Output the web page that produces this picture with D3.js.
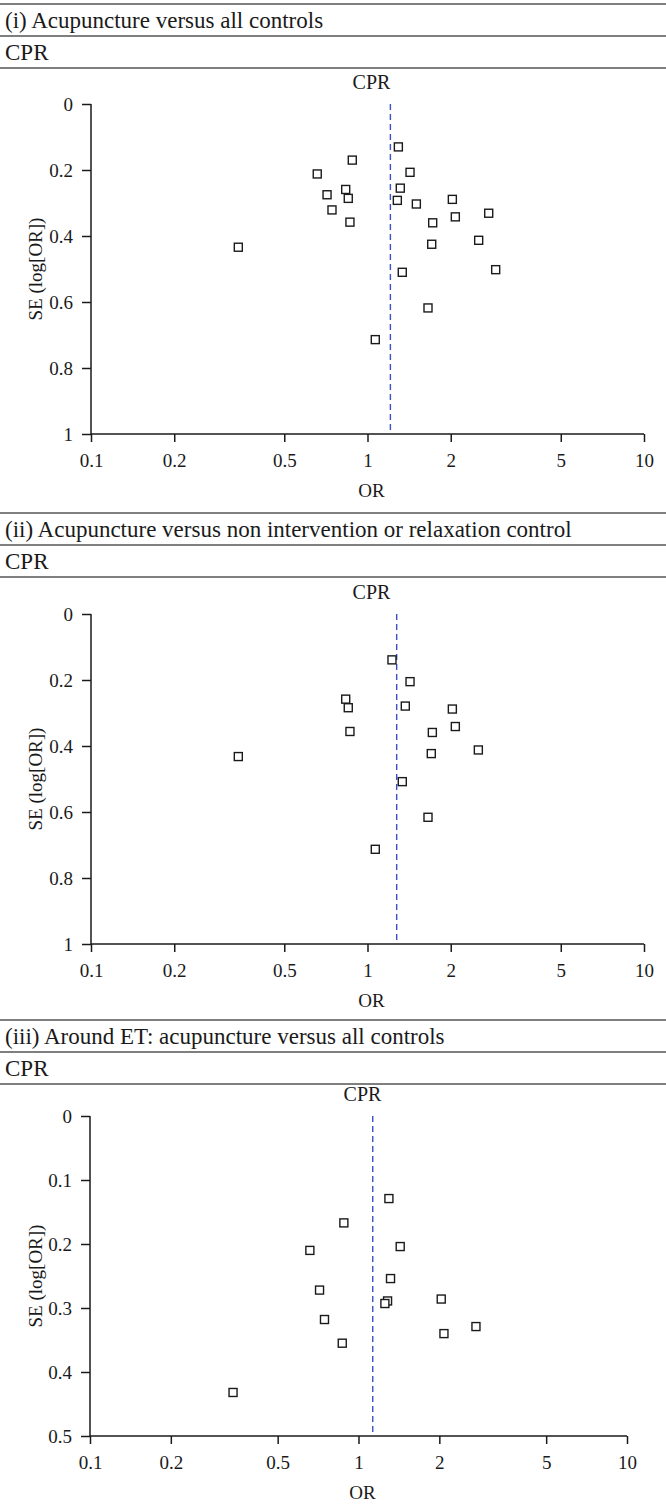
<!DOCTYPE html>
<html>
<head>
<meta charset="utf-8">
<script src="https://cdn.jsdelivr.net/npm/d3@7"></script>
<style>
  body { margin: 0; background: #fff; }
  svg { display: block; font-family: "Liberation Serif", "DejaVu Serif", serif; }
</style>
</head>
<body>
<svg id="chart" width="666" height="1508"></svg>
<script>
// Panel titles
const panelTitles = [
    "(i) Acupuncture versus all controls",
    "(ii) Acupuncture versus non intervention or relaxation control",
    "(iii) Around ET: acupuncture versus all controls"
];
const subTitle = "CPR";
const chartTitle = "CPR";
const xLabel = "OR";
const yLabel = "SE (log[OR])";

// x ticks (log scale)
const xTicks = [0.1, 0.2, 0.5, 1, 2, 5, 10];

// (i) all controls
const or1 = [0.881, 0.658, 0.714, 0.834, 0.852, 0.744, 0.864, 0.341,
             1.293, 1.425, 1.314, 1.282, 1.502, 2.027, 2.744, 2.078,
             1.721, 2.524, 1.707, 2.908, 1.336, 1.655, 1.067];
const se1 = [0.170, 0.212, 0.275, 0.259, 0.286, 0.321, 0.358, 0.434,
             0.130, 0.207, 0.255, 0.292, 0.303, 0.289, 0.331, 0.342,
             0.360, 0.413, 0.425, 0.502, 0.510, 0.618, 0.714];
const pooled1 = 1.21;

// (ii) non intervention or relaxation
const or2 = [0.834, 0.852, 0.864, 0.341, 1.226, 1.425, 1.370, 2.027,
             2.078, 1.716, 2.517, 1.701, 1.336, 1.655, 1.067];
const se2 = [0.258, 0.284, 0.356, 0.432, 0.139, 0.205, 0.279, 0.288,
             0.341, 0.359, 0.412, 0.423, 0.508, 0.616, 0.713];
const pooled2 = 1.275;

// (iii) around ET
const or3 = [0.882, 0.659, 0.716, 0.747, 0.870, 0.341, 1.298, 1.430,
             1.316, 1.283, 1.254, 2.033, 2.738, 2.081];
const se3 = [0.167, 0.210, 0.272, 0.318, 0.355, 0.432, 0.129, 0.204,
             0.254, 0.289, 0.293, 0.286, 0.329, 0.340];
const pooled3 = 1.13;

// y ticks
const yTicksA = [0, 0.2, 0.4, 0.6, 0.8, 1];
const yTicksB = [0, 0.1, 0.2, 0.3, 0.4, 0.5];

const panels = [
    {title: panelTitles[0], or: or1, se: se1, pooled: pooled1, yMax: 1, yTicks: yTicksA,
     top: 4, y0: 104, y1: 434, x0: 91, x1: 644},
    {title: panelTitles[1], or: or2, se: se2, pooled: pooled2, yMax: 1, yTicks: yTicksA,
     top: 513, y0: 614, y1: 944, x0: 91, x1: 644},
    {title: panelTitles[2], or: or3, se: se3, pooled: pooled3, yMax: 0.5, yTicks: yTicksB,
     top: 1020, y0: 1116, y1: 1436, x0: 90, x1: 627}
];

const svg = d3.select("#chart");
const ink = "#1a1a1a";
const ruleColor = "#555";

panels.forEach(p => {
    const g = svg.append("g");

    // Header rules and labels
    [p.top, p.top + 32, p.top + 64].forEach(y => {
        g.append("line")
            .attr("x1", 0).attr("x2", 666)
            .attr("y1", y).attr("y2", y)
            .attr("stroke", ruleColor)
            .attr("stroke-width", 1.5);
    });
    g.append("text")
        .attr("x", 5).attr("y", p.top + 24)
        .attr("font-size", 23)
        .attr("fill", ink)
        .text(p.title);
    g.append("text")
        .attr("x", 5).attr("y", p.top + 56)
        .attr("font-size", 23)
        .attr("fill", ink)
        .text(subTitle);

    // Scales
    const x = d3.scaleLog().domain([0.1, 10]).range([p.x0, p.x1]);
    const y = d3.scaleLinear().domain([0, p.yMax]).range([p.y0, p.y1]);
    const cx = (p.x0 + p.x1) / 2;

    // Chart title
    g.append("text")
        .attr("x", cx + 4).attr("y", p.y0 - 15)
        .attr("text-anchor", "middle")
        .attr("font-size", 20)
        .attr("fill", ink)
        .text(chartTitle);

    // Axes
    const xAxis = d3.axisBottom(x)
        .tickValues(xTicks)
        .tickFormat(d3.format("~g"))
        .tickSize(8)
        .tickPadding(12);
    const yAxis = d3.axisLeft(y)
        .tickValues(p.yTicks)
        .tickFormat(d3.format("~g"))
        .tickSize(9)
        .tickPadding(9);

    const gx = g.append("g")
        .attr("transform", `translate(0,${p.y1})`)
        .call(xAxis);
    const gy = g.append("g")
        .attr("transform", `translate(${p.x0},0)`)
        .call(yAxis);

    [gx, gy].forEach(a => {
        a.select(".domain").attr("stroke", ink).attr("stroke-width", 1.5);
        a.selectAll(".tick line").attr("stroke", ink).attr("stroke-width", 1.5);
        a.selectAll(".tick text")
            .attr("fill", ink)
            .attr("font-size", 19)
            .attr("font-family", "Liberation Serif, serif");
    });
    // remove outer tick stubs of the domain path
    gx.select(".domain").attr("d", `M${p.x0},0H${p.x1}`);
    gy.select(".domain").attr("d", `M0,${p.y0}V${p.y1}`);

    // Axis labels
    g.append("text")
        .attr("x", cx + 4).attr("y", p.y1 + 63)
        .attr("text-anchor", "middle")
        .attr("font-size", 19)
        .attr("fill", ink)
        .text(xLabel);
    g.append("text")
        .attr("transform", `translate(42,${(p.y0 + p.y1) / 2}) rotate(-90)`)
        .attr("text-anchor", "middle")
        .attr("font-size", 19)
        .attr("fill", ink)
        .text(yLabel);

    // Pooled estimate
    g.append("line")
        .attr("x1", x(p.pooled)).attr("x2", x(p.pooled))
        .attr("y1", p.y0).attr("y2", p.y1)
        .attr("stroke", "#3a4fc4")
        .attr("stroke-width", 1.4)
        .attr("stroke-dasharray", "6,4");

    // Study points
    const pts = p.or.map((v, i) => ({or: v, se: p.se[i]}));
    g.append("g")
        .selectAll("rect")
        .data(pts)
        .enter().append("rect")
        .attr("x", d => x(d.or) - 4)
        .attr("y", d => y(d.se) - 4)
        .attr("width", 8)
        .attr("height", 8)
        .attr("fill", "#fff")
        .attr("stroke", ink)
        .attr("stroke-width", 1.4);
});
</script>
</body>
</html>
